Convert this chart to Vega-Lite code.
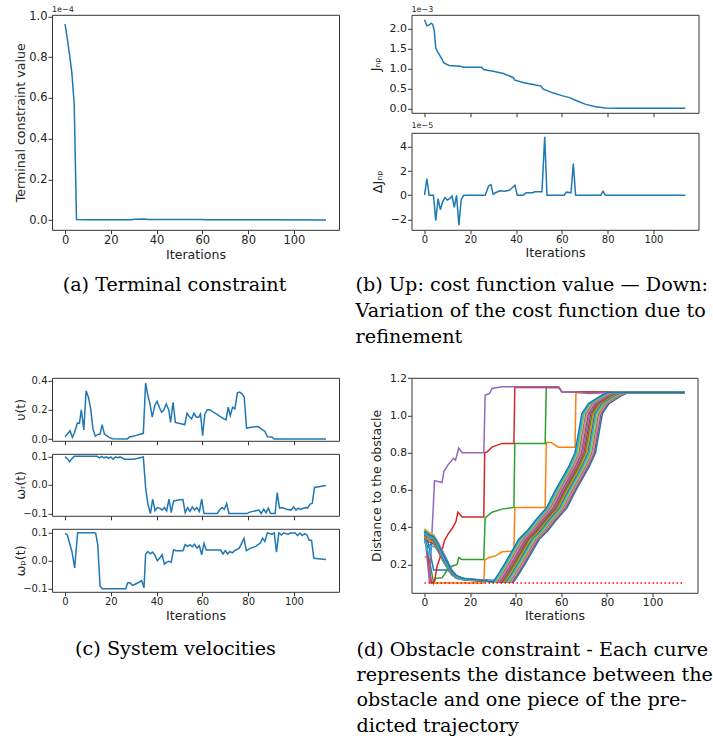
{
"$schema": "https://vega.github.io/schema/vega-lite/v6.json",
"background": "white",
"padding": {"left": 14, "top": 4.8, "right": 0, "bottom": 0},
"config": {
  "view": {"stroke": "#333", "strokeWidth": 1},
  "axis": {"domain": false, "grid": false, "tickColor": "#333", "tickSize": 4, "tickWidth": 1, "labelFont": "DejaVu Sans", "labelFontSize": 11.5, "labelColor": "#222", "labelPadding": 1, "titleFont": "DejaVu Sans", "titleFontSize": 12.6, "titleFontWeight": "normal", "titleColor": "#222", "labelFlush": false, "labelOverlap": false},
  "axisX": {"titlePadding": 0.5},
  "line": {"strokeWidth": 1.5}
},
"spacing": 23,
"vconcat": [
 {
  "hconcat": [
   {
    "vconcat": [
     {
      "width": 287, "height": 215,
      "title": {"text": "1e−4", "anchor": "start", "frame": "group", "fontSize": 8, "fontWeight": "normal", "font": "DejaVu Sans", "offset": -3.25, "color": "#222"},
      "data": {"values": [
        {"it":0,"v":0.962},{"it":1,"v":0.89},{"it":2,"v":0.81},{"it":3,"v":0.72},{"it":4,"v":0.57},{"it":5,"v":0.002},{"it":10,"v":0.001},{"it":20,"v":0.001},{"it":29,"v":0.001},{"it":30,"v":0.004},{"it":35,"v":0.005},{"it":36,"v":0.003},{"it":45,"v":0.002},{"it":60,"v":0.002},{"it":61,"v":0.001},{"it":90,"v":0.001},{"it":114,"v":0.0}
      ]},
      "mark": {"type": "line", "color": "#1f77b4"},
      "encoding": {
        "x": {"field": "it", "type": "quantitative", "scale": {"domain": [-5.7, 119.7], "nice": false, "zero": false}, "axis": {"values": [0,20,40,60,80,100], "title": "Iterations", "titlePadding": 2.5}},
        "y": {"field": "v", "type": "quantitative", "scale": {"domain": [-0.048, 1.008], "nice": false, "zero": false}, "axis": {"values": [0,0.2,0.4,0.6,0.8,1.0], "format": ".1f", "title": "Terminal constraint value", "titleX": -24.4}}
      }
     }
    ],
    "title": {"text": "(a) Terminal constraint", "orient": "bottom", "anchor": "middle", "dx": -2.25, "font": "DejaVu Serif", "fontSize": 19.2, "fontWeight": "normal", "color": "black", "offset": 14}
   },
   {
    "vconcat": [
     {
      "width": 287, "height": 98,
      "title": {"text": "1e−3", "anchor": "start", "frame": "group", "fontSize": 8, "fontWeight": "normal", "font": "DejaVu Sans", "offset": 0.3, "color": "#222"},
      "data": {"values": [
        {"it":0,"v":2.225},{"it":1,"v":2.075},{"it":2,"v":2.1},{"it":3,"v":2.14},{"it":3.6,"v":2.1},{"it":4.2,"v":1.975},{"it":4.9,"v":1.52},{"it":5.6,"v":1.43},{"it":7.3,"v":1.27},{"it":8.5,"v":1.14},{"it":10.7,"v":1.08},{"it":15.7,"v":1.06},{"it":17,"v":1.035},{"it":25,"v":1.035},{"it":25.8,"v":0.975},{"it":30,"v":0.93},{"it":34.4,"v":0.875},{"it":36,"v":0.84},{"it":38.8,"v":0.77},{"it":39.5,"v":0.71},{"it":43,"v":0.65},{"it":47.4,"v":0.6},{"it":51,"v":0.56},{"it":51.7,"v":0.49},{"it":56,"v":0.39},{"it":60,"v":0.32},{"it":63.3,"v":0.27},{"it":67,"v":0.18},{"it":70.5,"v":0.1},{"it":74.8,"v":0.04},{"it":79,"v":0.008},{"it":85,"v":0.0},{"it":114,"v":0.0}
      ]},
      "mark": {"type": "line", "color": "#1f77b4"},
      "encoding": {
        "x": {"field": "it", "type": "quantitative", "scale": {"domain": [-5.7, 119.7], "nice": false, "zero": false}, "axis": {"values": [0,20,40,60,80,100], "labels": false, "title": null}},
        "y": {"field": "v", "type": "quantitative", "scale": {"domain": [-0.112, 2.352], "nice": false, "zero": false}, "axis": {"values": [0,0.5,1,1.5,2], "format": ".1f", "labelFontSize": 11, "title": "Jₙₚ", "titleX": -29.1}}
      }
     },
     {
      "width": 287, "height": 97,
      "title": {"text": "1e−5", "anchor": "start", "frame": "group", "fontSize": 8, "fontWeight": "normal", "font": "DejaVu Sans", "offset": 2.5, "color": "#222"},
      "data": {"values": [
        {"it":0,"v":0},{"it":1,"v":1.38},{"it":2,"v":0},{"it":3.9,"v":0},{"it":4.9,"v":-2.1},{"it":5.9,"v":-0.28},{"it":6.9,"v":-1.2},{"it":7.9,"v":-0.55},{"it":8.9,"v":-0.2},{"it":9.9,"v":-0.4},{"it":11,"v":-0.28},{"it":12,"v":-0.08},{"it":13,"v":-1.0},{"it":14,"v":0},{"it":15,"v":-2.48},{"it":16,"v":-0.4},{"it":17,"v":-0.03},{"it":18,"v":0},{"it":26.5,"v":0},{"it":28,"v":0.77},{"it":29,"v":0.88},{"it":30,"v":0.08},{"it":31,"v":0.2},{"it":33,"v":0.36},{"it":35,"v":0.33},{"it":37,"v":0.41},{"it":38,"v":0.55},{"it":39.5,"v":0.83},{"it":40.5,"v":0},{"it":43,"v":0},{"it":44.5,"v":0.2},{"it":47.4,"v":0.2},{"it":48,"v":0.28},{"it":51.3,"v":0.28},{"it":52.5,"v":4.83},{"it":53.5,"v":0},{"it":61,"v":0},{"it":62,"v":0.25},{"it":64,"v":0.2},{"it":65,"v":2.62},{"it":66,"v":0},{"it":77,"v":0},{"it":78,"v":0.33},{"it":79,"v":0},{"it":114,"v":0}
      ]},
      "mark": {"type": "line", "color": "#1f77b4"},
      "encoding": {
        "x": {"field": "it", "type": "quantitative", "scale": {"domain": [-5.7, 119.7], "nice": false, "zero": false}, "axis": {"values": [0,20,40,60,80,100], "title": "Iterations", "labelFontSize": 10, "titlePadding": 2}},
        "y": {"field": "v", "type": "quantitative", "scale": {"domain": [-2.865, 5.165], "nice": false, "zero": false}, "axis": {"values": [-2,0,2,4], "format": "d", "labelFontSize": 11, "title": "ΔJₙₚ", "titleX": -26.5}}
      }
     }
    ],
    "spacing": 20,
    "bounds": "flush",
    "title": {"text": ["(b) Up: cost function value — Down:", "Variation of the cost function due to", "refinement"], "orient": "bottom", "anchor": "start", "align": "left", "dx": -13.3, "font": "DejaVu Serif", "fontSize": 19.2, "lineHeight": 26, "fontWeight": "normal", "color": "black", "offset": 16.5}
   }
  ],
  "spacing": 15.5
 },
 {
  "hconcat": [
   {
    "vconcat": [
     {
      "width": 287, "height": 63,
      "data": {"values": [
        {"it":0,"v":0.016},{"it":2.2,"v":0.057},{"it":3.2,"v":0.011},{"it":4.2,"v":0.046},{"it":5.4,"v":0.11},{"it":6.3,"v":0.107},{"it":7.1,"v":0.2},{"it":8.2,"v":0.062},{"it":9.2,"v":0.33},{"it":10.2,"v":0.286},{"it":11.2,"v":0.206},{"it":12.2,"v":0.069},{"it":13.2,"v":0.02},{"it":14.3,"v":0.03},{"it":15.3,"v":0.034},{"it":16.2,"v":0.098},{"it":17.2,"v":0.034},{"it":18.2,"v":0.023},{"it":19.2,"v":0.011},{"it":20.7,"v":0.002},{"it":27.2,"v":0.0},{"it":28.1,"v":0.014},{"it":30.1,"v":0.02},{"it":34.2,"v":0.039},{"it":35.2,"v":0.382},{"it":36.2,"v":0.297},{"it":37.1,"v":0.24},{"it":38.1,"v":0.149},{"it":39.2,"v":0.229},{"it":40.2,"v":0.258},{"it":41.2,"v":0.217},{"it":42.2,"v":0.183},{"it":43.2,"v":0.2},{"it":44.2,"v":0.24},{"it":45.3,"v":0.2},{"it":46.1,"v":0.114},{"it":47.2,"v":0.251},{"it":48.2,"v":0.114},{"it":49.2,"v":0.11},{"it":51.2,"v":0.103},{"it":52.3,"v":0.098},{"it":53.3,"v":0.176},{"it":54.3,"v":0.153},{"it":55.3,"v":0.137},{"it":56.3,"v":0.176},{"it":57.4,"v":0.149},{"it":58.4,"v":0.149},{"it":59.2,"v":0.171},{"it":60.1,"v":0.023},{"it":61.1,"v":0.171},{"it":62.2,"v":0.2},{"it":63.2,"v":0.2},{"it":69.4,"v":0.137},{"it":70.3,"v":0.13},{"it":71.3,"v":0.217},{"it":72.2,"v":0.16},{"it":73.2,"v":0.217},{"it":74.2,"v":0.206},{"it":75.3,"v":0.315},{"it":76.3,"v":0.32},{"it":77.3,"v":0.309},{"it":78.3,"v":0.286},{"it":79.3,"v":0.075},{"it":81.4,"v":0.08},{"it":84.3,"v":0.085},{"it":85.3,"v":0.075},{"it":86.3,"v":0.062},{"it":87.3,"v":0.053},{"it":88.4,"v":0.016},{"it":90.4,"v":0.014},{"it":91.4,"v":0.0},{"it":114,"v":0.0}
      ]},
      "mark": {"type": "line", "color": "#1f77b4"},
      "encoding": {
        "x": {"field": "it", "type": "quantitative", "scale": {"domain": [-5.7, 119.7], "nice": false, "zero": false}, "axis": {"values": [0,20,40,60,80,100], "labels": false, "title": null}},
        "y": {"field": "v", "type": "quantitative", "scale": {"domain": [-0.012, 0.418], "nice": false, "zero": false}, "axis": {"values": [0,0.2,0.4], "format": ".1f", "labelFontSize": 10, "title": "υ(t)", "titleX": -24.4}}
      }
     },
     {
      "width": 287, "height": 62,
      "data": {"values": [
        {"it":0,"v":0.099},{"it":1,"v":0.092},{"it":2,"v":0.081},{"it":3,"v":0.092},{"it":4,"v":0.1},{"it":14,"v":0.1},{"it":15,"v":0.095},{"it":16,"v":0.1},{"it":17,"v":0.095},{"it":18,"v":0.098},{"it":19,"v":0.093},{"it":20,"v":0.098},{"it":21,"v":0.09},{"it":22,"v":0.098},{"it":23,"v":0.095},{"it":24,"v":0.098},{"it":26,"v":0.09},{"it":30,"v":0.09},{"it":34.2,"v":0.098},{"it":35.2,"v":-0.009},{"it":36.2,"v":-0.067},{"it":37.3,"v":-0.1},{"it":38.3,"v":-0.05},{"it":39.3,"v":-0.09},{"it":40.3,"v":-0.079},{"it":41.3,"v":-0.081},{"it":42.4,"v":-0.088},{"it":43.4,"v":-0.079},{"it":44.4,"v":-0.091},{"it":45.4,"v":-0.05},{"it":46.4,"v":-0.097},{"it":47.4,"v":-0.056},{"it":49.5,"v":-0.053},{"it":51.5,"v":-0.051},{"it":52.5,"v":-0.097},{"it":53.6,"v":-0.079},{"it":54.6,"v":-0.093},{"it":55.6,"v":-0.077},{"it":56.6,"v":-0.088},{"it":57.6,"v":-0.079},{"it":58.7,"v":-0.093},{"it":59.7,"v":-0.05},{"it":60.7,"v":-0.1},{"it":66.5,"v":-0.1},{"it":67.5,"v":-0.088},{"it":68.6,"v":-0.079},{"it":69.6,"v":-0.085},{"it":70.6,"v":-0.065},{"it":71.6,"v":-0.1},{"it":79.6,"v":-0.1},{"it":80.6,"v":-0.095},{"it":84.7,"v":-0.088},{"it":85.7,"v":-0.1},{"it":86.8,"v":-0.085},{"it":87.8,"v":-0.097},{"it":88.8,"v":-0.081},{"it":89.8,"v":-0.1},{"it":91.8,"v":-0.1},{"it":92.7,"v":-0.027},{"it":93.7,"v":-0.081},{"it":94.8,"v":-0.079},{"it":96.8,"v":-0.085},{"it":98.8,"v":-0.088},{"it":99.9,"v":-0.077},{"it":100.9,"v":-0.088},{"it":101.9,"v":-0.081},{"it":102.9,"v":-0.086},{"it":105,"v":-0.079},{"it":106,"v":-0.081},{"it":107,"v":-0.067},{"it":108,"v":-0.065},{"it":109,"v":-0.009},{"it":114,"v":-0.002}
      ]},
      "mark": {"type": "line", "color": "#1f77b4"},
      "encoding": {
        "x": {"field": "it", "type": "quantitative", "scale": {"domain": [-5.7, 119.7], "nice": false, "zero": false}, "axis": {"values": [0,20,40,60,80,100], "labels": false, "title": null}},
        "y": {"field": "v", "type": "quantitative", "scale": {"domain": [-0.108, 0.109], "nice": false, "zero": false}, "axis": {"values": [-0.1,0,0.1], "format": ".1f", "labelFontSize": 10, "title": "ωᵣ(t)", "titleX": -24.4}}
      }
     },
     {
      "width": 287, "height": 63,
      "title": {"text": "(c) System velocities", "orient": "bottom", "anchor": "middle", "frame": "group", "dx": -20, "font": "DejaVu Serif", "fontSize": 19.2, "fontWeight": "normal", "color": "black", "offset": 18},
      "data": {"values": [
        {"it":0,"v":0.098},{"it":1,"v":0.092},{"it":3,"v":0.033},{"it":4.2,"v":-0.026},{"it":5.5,"v":0.1},{"it":12.7,"v":0.1},{"it":13.4,"v":0.098},{"it":14.3,"v":0.057},{"it":15.3,"v":-0.091},{"it":16.3,"v":-0.1},{"it":26.5,"v":-0.1},{"it":27.4,"v":-0.079},{"it":28.4,"v":-0.079},{"it":29.4,"v":-0.088},{"it":30.4,"v":-0.085},{"it":32.5,"v":-0.076},{"it":33.5,"v":-0.071},{"it":34.5,"v":-0.097},{"it":35.2,"v":0.024},{"it":36.2,"v":0.033},{"it":37.3,"v":0.025},{"it":38.3,"v":0.031},{"it":39.3,"v":0.019},{"it":40.3,"v":0.0},{"it":41.3,"v":0.009},{"it":42.4,"v":0.021},{"it":43.4,"v":-0.012},{"it":44.4,"v":-0.005},{"it":45.4,"v":-0.002},{"it":46.4,"v":-0.005},{"it":47.4,"v":0.039},{"it":48.5,"v":0.036},{"it":51.5,"v":0.036},{"it":52.5,"v":0.057},{"it":53.6,"v":0.051},{"it":54.6,"v":0.057},{"it":55.6,"v":0.05},{"it":56.6,"v":0.059},{"it":57.6,"v":0.045},{"it":58.7,"v":0.054},{"it":59.7,"v":0.021},{"it":60.7,"v":0.062},{"it":61.7,"v":0.038},{"it":68,"v":0.038},{"it":69,"v":0.024},{"it":70,"v":0.036},{"it":71,"v":0.024},{"it":72,"v":0.033},{"it":73.1,"v":0.028},{"it":74.1,"v":0.036},{"it":76.1,"v":0.045},{"it":78.2,"v":0.08},{"it":79.2,"v":0.036},{"it":81.2,"v":0.045},{"it":83.3,"v":0.051},{"it":85.3,"v":0.063},{"it":86.3,"v":0.08},{"it":87.3,"v":0.069},{"it":88.4,"v":0.099},{"it":90.4,"v":0.095},{"it":91.4,"v":0.099},{"it":92.4,"v":0.031},{"it":93.4,"v":0.099},{"it":94.5,"v":0.092},{"it":95.5,"v":0.099},{"it":97.5,"v":0.095},{"it":98.5,"v":0.099},{"it":100.6,"v":0.099},{"it":101.6,"v":0.09},{"it":102.6,"v":0.099},{"it":103.6,"v":0.09},{"it":104.7,"v":0.097},{"it":105.7,"v":0.092},{"it":106.7,"v":0.073},{"it":107.7,"v":0.073},{"it":108.7,"v":0.009},{"it":114,"v":0.004}
      ]},
      "mark": {"type": "line", "color": "#1f77b4"},
      "encoding": {
        "x": {"field": "it", "type": "quantitative", "scale": {"domain": [-5.7, 119.7], "nice": false, "zero": false}, "axis": {"values": [0,20,40,60,80,100], "labelFontSize": 10, "title": "Iterations", "titlePadding": 2.5}},
        "y": {"field": "v", "type": "quantitative", "scale": {"domain": [-0.111, 0.114], "nice": false, "zero": false}, "axis": {"values": [-0.1,0,0.1], "format": ".1f", "labelFontSize": 10, "title": "ωₚ(t)", "titleX": -24.4}}
      }
     }
    ],
    "spacing": 13,
    "bounds": "flush"
   },
   {
    "width": 286, "height": 215,
    "title": {"text": ["(d) Obstacle constraint - Each curve", "represents the distance between the", "obstacle and one piece of the pre-", "dicted trajectory"], "orient": "bottom", "anchor": "start", "align": "left", "frame": "group", "dx": -55, "font": "DejaVu Serif", "fontSize": 19.2, "lineHeight": 25.4, "fontWeight": "normal", "color": "black", "offset": 18},
    "layer": [
     {
      "data": {"values": [
{"p":"p0","i":0,"v":0.32},{"p":"p0","i":2,"v":0.29},{"p":"p0","i":4,"v":0.17},{"p":"p0","i":10,"v":0.17},{"p":"p0","i":12,"v":0.15},{"p":"p0","i":15,"v":0.13},{"p":"p0","i":20,"v":0.12},{"p":"p0","i":30,"v":0.115},{"p":"p0","i":39.0,"v":0.105},{"p":"p0","i":41.5,"v":0.15},{"p":"p0","i":44.0,"v":0.2},{"p":"p0","i":47.3,"v":0.27},{"p":"p0","i":50.3,"v":0.335},{"p":"p0","i":54.0,"v":0.38},{"p":"p0","i":57.5,"v":0.434},{"p":"p0","i":62.6,"v":0.506},{"p":"p0","i":66.3,"v":0.596},{"p":"p0","i":72.1,"v":0.722},{"p":"p0","i":75.0,"v":0.8},{"p":"p0","i":78.0,"v":1.01},{"p":"p0","i":80.9,"v":1.064},{"p":"p0","i":86.7,"v":1.109},{"p":"p0","i":89.6,"v":1.124},{"p":"p0","i":114,"v":1.124},
{"p":"p1","i":0,"v":0.24},{"p":"p1","i":1.2,"v":0.24},{"p":"p1","i":3.0,"v":0.1},{"p":"p1","i":26.0,"v":0.1},{"p":"p1","i":26.4,"v":0.222},{"p":"p1","i":28.0,"v":0.236},{"p":"p1","i":31.0,"v":0.245},{"p":"p1","i":34.0,"v":0.268},{"p":"p1","i":39.2,"v":0.272},{"p":"p1","i":39.6,"v":0.506},{"p":"p1","i":52.9,"v":0.506},{"p":"p1","i":53.4,"v":0.855},{"p":"p1","i":55.5,"v":0.855},{"p":"p1","i":58.7,"v":0.83},{"p":"p1","i":66.0,"v":0.83},{"p":"p1","i":66.4,"v":1.122},{"p":"p1","i":114,"v":1.124},
{"p":"p2","i":0,"v":0.35},{"p":"p2","i":2.5,"v":0.2},{"p":"p2","i":4.0,"v":0.1},{"p":"p2","i":4.8,"v":0.125},{"p":"p2","i":7.7,"v":0.128},{"p":"p2","i":10.0,"v":0.17},{"p":"p2","i":12.0,"v":0.19},{"p":"p2","i":14.3,"v":0.2},{"p":"p2","i":15.0,"v":0.236},{"p":"p2","i":16.5,"v":0.227},{"p":"p2","i":26.0,"v":0.227},{"p":"p2","i":26.6,"v":0.45},{"p":"p2","i":29.6,"v":0.48},{"p":"p2","i":34.0,"v":0.497},{"p":"p2","i":39.2,"v":0.506},{"p":"p2","i":39.6,"v":0.85},{"p":"p2","i":52.9,"v":0.85},{"p":"p2","i":53.4,"v":1.15},{"p":"p2","i":59.0,"v":1.15},{"p":"p2","i":60.2,"v":1.127},{"p":"p2","i":114,"v":1.124},
{"p":"p3","i":0,"v":0.37},{"p":"p3","i":1.5,"v":0.24},{"p":"p3","i":3.0,"v":0.1},{"p":"p3","i":4.4,"v":0.11},{"p":"p3","i":5.5,"v":0.19},{"p":"p3","i":7.3,"v":0.254},{"p":"p3","i":8.7,"v":0.326},{"p":"p3","i":10.2,"v":0.36},{"p":"p3","i":12.4,"v":0.398},{"p":"p3","i":13.8,"v":0.43},{"p":"p3","i":14.6,"v":0.48},{"p":"p3","i":15.5,"v":0.47},{"p":"p3","i":16.5,"v":0.455},{"p":"p3","i":26.0,"v":0.455},{"p":"p3","i":26.4,"v":0.8},{"p":"p3","i":27.5,"v":0.805},{"p":"p3","i":29.6,"v":0.83},{"p":"p3","i":34.0,"v":0.85},{"p":"p3","i":39.2,"v":0.85},{"p":"p3","i":39.6,"v":1.15},{"p":"p3","i":59.0,"v":1.15},{"p":"p3","i":60.2,"v":1.127},{"p":"p3","i":114,"v":1.124},
{"p":"p4","i":0,"v":0.38},{"p":"p4","i":2.2,"v":0.1},{"p":"p4","i":4.4,"v":0.65},{"p":"p4","i":7.7,"v":0.64},{"p":"p4","i":8.5,"v":0.7},{"p":"p4","i":10.6,"v":0.74},{"p":"p4","i":12.8,"v":0.77},{"p":"p4","i":13.6,"v":0.76},{"p":"p4","i":15.0,"v":0.825},{"p":"p4","i":16.5,"v":0.8},{"p":"p4","i":26.0,"v":0.8},{"p":"p4","i":26.6,"v":1.11},{"p":"p4","i":28.5,"v":1.118},{"p":"p4","i":29.6,"v":1.145},{"p":"p4","i":34.0,"v":1.155},{"p":"p4","i":58.7,"v":1.155},{"p":"p4","i":60.2,"v":1.127},{"p":"p4","i":66.0,"v":1.127},{"p":"p4","i":71.9,"v":1.118},{"p":"p4","i":80.6,"v":1.123},{"p":"p4","i":114,"v":1.124},
{"p":"p5","i":0,"v":0.34},{"p":"p5","i":2,"v":0.32},{"p":"p5","i":4,"v":0.31},{"p":"p5","i":6,"v":0.27},{"p":"p5","i":8,"v":0.22},{"p":"p5","i":10,"v":0.18},{"p":"p5","i":12,"v":0.145},{"p":"p5","i":14,"v":0.125},{"p":"p5","i":17,"v":0.118},{"p":"p5","i":25,"v":0.11},{"p":"p5","i":38.4,"v":0.105},{"p":"p5","i":40.9,"v":0.15},{"p":"p5","i":43.4,"v":0.2},{"p":"p5","i":46.7,"v":0.27},{"p":"p5","i":49.7,"v":0.335},{"p":"p5","i":53.4,"v":0.38},{"p":"p5","i":56.9,"v":0.434},{"p":"p5","i":62.0,"v":0.506},{"p":"p5","i":65.7,"v":0.596},{"p":"p5","i":71.5,"v":0.722},{"p":"p5","i":74.4,"v":0.8},{"p":"p5","i":77.4,"v":1.01},{"p":"p5","i":80.3,"v":1.064},{"p":"p5","i":86.1,"v":1.109},{"p":"p5","i":89.0,"v":1.124},{"p":"p5","i":114,"v":1.124},
{"p":"p6","i":0,"v":0.36},{"p":"p6","i":2,"v":0.35},{"p":"p6","i":4,"v":0.34},{"p":"p6","i":6,"v":0.3},{"p":"p6","i":8,"v":0.25},{"p":"p6","i":10,"v":0.2},{"p":"p6","i":12,"v":0.16},{"p":"p6","i":14,"v":0.135},{"p":"p6","i":17,"v":0.12},{"p":"p6","i":25,"v":0.112},{"p":"p6","i":37.9,"v":0.105},{"p":"p6","i":40.4,"v":0.15},{"p":"p6","i":42.9,"v":0.2},{"p":"p6","i":46.2,"v":0.27},{"p":"p6","i":49.2,"v":0.335},{"p":"p6","i":52.9,"v":0.38},{"p":"p6","i":56.4,"v":0.434},{"p":"p6","i":61.5,"v":0.506},{"p":"p6","i":65.2,"v":0.596},{"p":"p6","i":71.0,"v":0.722},{"p":"p6","i":73.9,"v":0.8},{"p":"p6","i":76.9,"v":1.01},{"p":"p6","i":79.8,"v":1.064},{"p":"p6","i":85.6,"v":1.109},{"p":"p6","i":88.5,"v":1.124},{"p":"p6","i":114,"v":1.124},
{"p":"p7","i":0,"v":0.34},{"p":"p7","i":2,"v":0.33},{"p":"p7","i":4,"v":0.32},{"p":"p7","i":6,"v":0.28},{"p":"p7","i":8,"v":0.23},{"p":"p7","i":10,"v":0.18},{"p":"p7","i":12,"v":0.145},{"p":"p7","i":14,"v":0.125},{"p":"p7","i":17,"v":0.118},{"p":"p7","i":25,"v":0.11},{"p":"p7","i":37.3,"v":0.105},{"p":"p7","i":39.8,"v":0.15},{"p":"p7","i":42.3,"v":0.2},{"p":"p7","i":45.6,"v":0.27},{"p":"p7","i":48.6,"v":0.335},{"p":"p7","i":52.3,"v":0.38},{"p":"p7","i":55.8,"v":0.434},{"p":"p7","i":60.9,"v":0.506},{"p":"p7","i":64.6,"v":0.596},{"p":"p7","i":70.4,"v":0.722},{"p":"p7","i":73.3,"v":0.8},{"p":"p7","i":76.3,"v":1.01},{"p":"p7","i":79.2,"v":1.064},{"p":"p7","i":85.0,"v":1.109},{"p":"p7","i":87.9,"v":1.124},{"p":"p7","i":114,"v":1.124},
{"p":"p8","i":0,"v":0.35},{"p":"p8","i":2,"v":0.34},{"p":"p8","i":4,"v":0.33},{"p":"p8","i":6,"v":0.29},{"p":"p8","i":8,"v":0.25},{"p":"p8","i":10,"v":0.19},{"p":"p8","i":12,"v":0.15},{"p":"p8","i":14,"v":0.13},{"p":"p8","i":17,"v":0.12},{"p":"p8","i":25,"v":0.112},{"p":"p8","i":36.8,"v":0.105},{"p":"p8","i":39.3,"v":0.15},{"p":"p8","i":41.8,"v":0.2},{"p":"p8","i":45.1,"v":0.27},{"p":"p8","i":48.1,"v":0.335},{"p":"p8","i":51.8,"v":0.38},{"p":"p8","i":55.3,"v":0.434},{"p":"p8","i":60.4,"v":0.506},{"p":"p8","i":64.1,"v":0.596},{"p":"p8","i":69.9,"v":0.722},{"p":"p8","i":72.8,"v":0.8},{"p":"p8","i":75.8,"v":1.01},{"p":"p8","i":78.7,"v":1.064},{"p":"p8","i":84.5,"v":1.109},{"p":"p8","i":87.4,"v":1.124},{"p":"p8","i":114,"v":1.124},
{"p":"p9","i":0,"v":0.33},{"p":"p9","i":2,"v":0.25},{"p":"p9","i":3,"v":0.3},{"p":"p9","i":5,"v":0.29},{"p":"p9","i":7,"v":0.26},{"p":"p9","i":9,"v":0.2},{"p":"p9","i":12,"v":0.145},{"p":"p9","i":14,"v":0.13},{"p":"p9","i":17,"v":0.12},{"p":"p9","i":25,"v":0.112},{"p":"p9","i":36.2,"v":0.105},{"p":"p9","i":38.7,"v":0.15},{"p":"p9","i":41.2,"v":0.2},{"p":"p9","i":44.5,"v":0.27},{"p":"p9","i":47.5,"v":0.335},{"p":"p9","i":51.2,"v":0.38},{"p":"p9","i":54.7,"v":0.434},{"p":"p9","i":59.8,"v":0.506},{"p":"p9","i":63.5,"v":0.596},{"p":"p9","i":69.3,"v":0.722},{"p":"p9","i":72.2,"v":0.8},{"p":"p9","i":75.2,"v":1.01},{"p":"p9","i":78.1,"v":1.064},{"p":"p9","i":83.9,"v":1.109},{"p":"p9","i":86.8,"v":1.124},{"p":"p9","i":114,"v":1.124},
{"p":"p10","i":0,"v":0.36},{"p":"p10","i":2,"v":0.3},{"p":"p10","i":4,"v":0.32},{"p":"p10","i":6,"v":0.31},{"p":"p10","i":8,"v":0.27},{"p":"p10","i":10,"v":0.22},{"p":"p10","i":12,"v":0.17},{"p":"p10","i":14,"v":0.14},{"p":"p10","i":17,"v":0.125},{"p":"p10","i":25,"v":0.115},{"p":"p10","i":35.6,"v":0.105},{"p":"p10","i":38.1,"v":0.15},{"p":"p10","i":40.6,"v":0.2},{"p":"p10","i":43.9,"v":0.27},{"p":"p10","i":46.9,"v":0.335},{"p":"p10","i":50.6,"v":0.38},{"p":"p10","i":54.1,"v":0.434},{"p":"p10","i":59.2,"v":0.506},{"p":"p10","i":62.9,"v":0.596},{"p":"p10","i":68.7,"v":0.722},{"p":"p10","i":71.6,"v":0.8},{"p":"p10","i":74.6,"v":1.01},{"p":"p10","i":77.5,"v":1.064},{"p":"p10","i":83.3,"v":1.109},{"p":"p10","i":86.2,"v":1.124},{"p":"p10","i":114,"v":1.124},
{"p":"p11","i":0,"v":0.35},{"p":"p11","i":2,"v":0.33},{"p":"p11","i":4,"v":0.32},{"p":"p11","i":6,"v":0.28},{"p":"p11","i":8,"v":0.24},{"p":"p11","i":10,"v":0.19},{"p":"p11","i":12,"v":0.15},{"p":"p11","i":14,"v":0.13},{"p":"p11","i":17,"v":0.12},{"p":"p11","i":25,"v":0.112},{"p":"p11","i":35.1,"v":0.105},{"p":"p11","i":37.6,"v":0.15},{"p":"p11","i":40.1,"v":0.2},{"p":"p11","i":43.4,"v":0.27},{"p":"p11","i":46.4,"v":0.335},{"p":"p11","i":50.1,"v":0.38},{"p":"p11","i":53.6,"v":0.434},{"p":"p11","i":58.7,"v":0.506},{"p":"p11","i":62.4,"v":0.596},{"p":"p11","i":68.2,"v":0.722},{"p":"p11","i":71.1,"v":0.8},{"p":"p11","i":74.1,"v":1.01},{"p":"p11","i":77.0,"v":1.064},{"p":"p11","i":82.8,"v":1.109},{"p":"p11","i":85.7,"v":1.124},{"p":"p11","i":114,"v":1.124},
{"p":"p12","i":0,"v":0.37},{"p":"p12","i":2,"v":0.36},{"p":"p12","i":4,"v":0.35},{"p":"p12","i":6,"v":0.31},{"p":"p12","i":8,"v":0.26},{"p":"p12","i":10,"v":0.21},{"p":"p12","i":12,"v":0.165},{"p":"p12","i":14,"v":0.14},{"p":"p12","i":17,"v":0.125},{"p":"p12","i":25,"v":0.115},{"p":"p12","i":34.5,"v":0.105},{"p":"p12","i":37.0,"v":0.15},{"p":"p12","i":39.5,"v":0.2},{"p":"p12","i":42.8,"v":0.27},{"p":"p12","i":45.8,"v":0.335},{"p":"p12","i":49.5,"v":0.38},{"p":"p12","i":53.0,"v":0.434},{"p":"p12","i":58.1,"v":0.506},{"p":"p12","i":61.8,"v":0.596},{"p":"p12","i":67.6,"v":0.722},{"p":"p12","i":70.5,"v":0.8},{"p":"p12","i":73.5,"v":1.01},{"p":"p12","i":76.4,"v":1.064},{"p":"p12","i":82.2,"v":1.109},{"p":"p12","i":85.1,"v":1.124},{"p":"p12","i":114,"v":1.124},
{"p":"p13","i":0,"v":0.36},{"p":"p13","i":2,"v":0.34},{"p":"p13","i":4,"v":0.33},{"p":"p13","i":6,"v":0.29},{"p":"p13","i":8,"v":0.25},{"p":"p13","i":10,"v":0.2},{"p":"p13","i":12,"v":0.16},{"p":"p13","i":14,"v":0.13},{"p":"p13","i":17,"v":0.12},{"p":"p13","i":25,"v":0.112},{"p":"p13","i":33.9,"v":0.105},{"p":"p13","i":36.4,"v":0.15},{"p":"p13","i":38.9,"v":0.2},{"p":"p13","i":42.2,"v":0.27},{"p":"p13","i":45.2,"v":0.335},{"p":"p13","i":48.9,"v":0.38},{"p":"p13","i":52.4,"v":0.434},{"p":"p13","i":57.5,"v":0.506},{"p":"p13","i":61.2,"v":0.596},{"p":"p13","i":67.0,"v":0.722},{"p":"p13","i":69.9,"v":0.8},{"p":"p13","i":72.9,"v":1.01},{"p":"p13","i":75.8,"v":1.064},{"p":"p13","i":81.6,"v":1.109},{"p":"p13","i":84.5,"v":1.124},{"p":"p13","i":114,"v":1.124},
{"p":"p14","i":0,"v":0.39},{"p":"p14","i":2,"v":0.37},{"p":"p14","i":4,"v":0.35},{"p":"p14","i":6,"v":0.3},{"p":"p14","i":8,"v":0.25},{"p":"p14","i":10,"v":0.2},{"p":"p14","i":12,"v":0.16},{"p":"p14","i":14,"v":0.135},{"p":"p14","i":17,"v":0.12},{"p":"p14","i":25,"v":0.115},{"p":"p14","i":33.4,"v":0.105},{"p":"p14","i":35.9,"v":0.15},{"p":"p14","i":38.4,"v":0.2},{"p":"p14","i":41.7,"v":0.27},{"p":"p14","i":44.7,"v":0.335},{"p":"p14","i":48.4,"v":0.38},{"p":"p14","i":51.9,"v":0.434},{"p":"p14","i":57.0,"v":0.506},{"p":"p14","i":60.7,"v":0.596},{"p":"p14","i":66.5,"v":0.722},{"p":"p14","i":69.4,"v":0.8},{"p":"p14","i":72.4,"v":1.01},{"p":"p14","i":75.3,"v":1.064},{"p":"p14","i":81.1,"v":1.109},{"p":"p14","i":84.0,"v":1.124},{"p":"p14","i":114,"v":1.124},
{"p":"p15","i":0,"v":0.37},{"p":"p15","i":2,"v":0.35},{"p":"p15","i":4,"v":0.33},{"p":"p15","i":6,"v":0.28},{"p":"p15","i":8,"v":0.24},{"p":"p15","i":10,"v":0.19},{"p":"p15","i":12,"v":0.15},{"p":"p15","i":14,"v":0.13},{"p":"p15","i":17,"v":0.12},{"p":"p15","i":25,"v":0.112},{"p":"p15","i":32.8,"v":0.105},{"p":"p15","i":35.3,"v":0.15},{"p":"p15","i":37.8,"v":0.2},{"p":"p15","i":41.1,"v":0.27},{"p":"p15","i":44.1,"v":0.335},{"p":"p15","i":47.8,"v":0.38},{"p":"p15","i":51.3,"v":0.434},{"p":"p15","i":56.4,"v":0.506},{"p":"p15","i":60.1,"v":0.596},{"p":"p15","i":65.9,"v":0.722},{"p":"p15","i":68.8,"v":0.8},{"p":"p15","i":71.8,"v":1.01},{"p":"p15","i":74.7,"v":1.064},{"p":"p15","i":80.5,"v":1.109},{"p":"p15","i":83.4,"v":1.124},{"p":"p15","i":114,"v":1.124},
{"p":"p16","i":0,"v":0.38},{"p":"p16","i":2,"v":0.36},{"p":"p16","i":4,"v":0.36},{"p":"p16","i":6,"v":0.32},{"p":"p16","i":8,"v":0.27},{"p":"p16","i":10,"v":0.21},{"p":"p16","i":12,"v":0.17},{"p":"p16","i":14,"v":0.14},{"p":"p16","i":17,"v":0.125},{"p":"p16","i":25,"v":0.115},{"p":"p16","i":32.3,"v":0.105},{"p":"p16","i":34.8,"v":0.15},{"p":"p16","i":37.3,"v":0.2},{"p":"p16","i":40.6,"v":0.27},{"p":"p16","i":43.6,"v":0.335},{"p":"p16","i":47.3,"v":0.38},{"p":"p16","i":50.8,"v":0.434},{"p":"p16","i":55.9,"v":0.506},{"p":"p16","i":59.6,"v":0.596},{"p":"p16","i":65.4,"v":0.722},{"p":"p16","i":68.3,"v":0.8},{"p":"p16","i":71.3,"v":1.01},{"p":"p16","i":74.2,"v":1.064},{"p":"p16","i":80.0,"v":1.109},{"p":"p16","i":82.9,"v":1.124},{"p":"p16","i":114,"v":1.124},
{"p":"p17","i":0,"v":0.36},{"p":"p17","i":2,"v":0.35},{"p":"p17","i":4,"v":0.34},{"p":"p17","i":6,"v":0.29},{"p":"p17","i":8,"v":0.24},{"p":"p17","i":10,"v":0.19},{"p":"p17","i":12,"v":0.155},{"p":"p17","i":14,"v":0.13},{"p":"p17","i":17,"v":0.12},{"p":"p17","i":25,"v":0.112},{"p":"p17","i":31.7,"v":0.105},{"p":"p17","i":34.2,"v":0.15},{"p":"p17","i":36.7,"v":0.2},{"p":"p17","i":40.0,"v":0.27},{"p":"p17","i":43.0,"v":0.335},{"p":"p17","i":46.7,"v":0.38},{"p":"p17","i":50.2,"v":0.434},{"p":"p17","i":55.3,"v":0.506},{"p":"p17","i":59.0,"v":0.596},{"p":"p17","i":64.8,"v":0.722},{"p":"p17","i":67.7,"v":0.8},{"p":"p17","i":70.7,"v":1.01},{"p":"p17","i":73.6,"v":1.064},{"p":"p17","i":79.4,"v":1.109},{"p":"p17","i":82.3,"v":1.124},{"p":"p17","i":114,"v":1.124},
{"p":"p18","i":0,"v":0.39},{"p":"p18","i":2,"v":0.37},{"p":"p18","i":4,"v":0.36},{"p":"p18","i":6,"v":0.31},{"p":"p18","i":8,"v":0.26},{"p":"p18","i":10,"v":0.2},{"p":"p18","i":12,"v":0.16},{"p":"p18","i":14,"v":0.135},{"p":"p18","i":17,"v":0.12},{"p":"p18","i":25,"v":0.115},{"p":"p18","i":31.1,"v":0.105},{"p":"p18","i":33.6,"v":0.15},{"p":"p18","i":36.1,"v":0.2},{"p":"p18","i":39.4,"v":0.27},{"p":"p18","i":42.4,"v":0.335},{"p":"p18","i":46.1,"v":0.38},{"p":"p18","i":49.6,"v":0.434},{"p":"p18","i":54.7,"v":0.506},{"p":"p18","i":58.4,"v":0.596},{"p":"p18","i":64.2,"v":0.722},{"p":"p18","i":67.1,"v":0.8},{"p":"p18","i":70.1,"v":1.01},{"p":"p18","i":73.0,"v":1.064},{"p":"p18","i":78.8,"v":1.109},{"p":"p18","i":81.7,"v":1.124},{"p":"p18","i":114,"v":1.124},
{"p":"p19","i":0,"v":0.37},{"p":"p19","i":2,"v":0.34},{"p":"p19","i":4,"v":0.34},{"p":"p19","i":6,"v":0.3},{"p":"p19","i":8,"v":0.25},{"p":"p19","i":10,"v":0.2},{"p":"p19","i":12,"v":0.16},{"p":"p19","i":14,"v":0.135},{"p":"p19","i":17,"v":0.12},{"p":"p19","i":25,"v":0.115},{"p":"p19","i":30.6,"v":0.105},{"p":"p19","i":33.1,"v":0.15},{"p":"p19","i":35.6,"v":0.2},{"p":"p19","i":38.9,"v":0.27},{"p":"p19","i":41.9,"v":0.335},{"p":"p19","i":45.6,"v":0.38},{"p":"p19","i":49.1,"v":0.434},{"p":"p19","i":54.2,"v":0.506},{"p":"p19","i":57.9,"v":0.596},{"p":"p19","i":63.7,"v":0.722},{"p":"p19","i":66.6,"v":0.8},{"p":"p19","i":69.6,"v":1.01},{"p":"p19","i":72.5,"v":1.064},{"p":"p19","i":78.3,"v":1.109},{"p":"p19","i":81.2,"v":1.124},{"p":"p19","i":114,"v":1.124},
{"p":"p20","i":0,"v":0.38},{"p":"p20","i":2,"v":0.36},{"p":"p20","i":4,"v":0.35},{"p":"p20","i":6,"v":0.31},{"p":"p20","i":8,"v":0.26},{"p":"p20","i":10,"v":0.21},{"p":"p20","i":12,"v":0.165},{"p":"p20","i":14,"v":0.14},{"p":"p20","i":17,"v":0.125},{"p":"p20","i":25,"v":0.115},{"p":"p20","i":30.0,"v":0.105},{"p":"p20","i":32.5,"v":0.15},{"p":"p20","i":35.0,"v":0.2},{"p":"p20","i":38.3,"v":0.27},{"p":"p20","i":41.3,"v":0.335},{"p":"p20","i":45.0,"v":0.38},{"p":"p20","i":48.5,"v":0.434},{"p":"p20","i":53.6,"v":0.506},{"p":"p20","i":57.3,"v":0.596},{"p":"p20","i":63.1,"v":0.722},{"p":"p20","i":66.0,"v":0.8},{"p":"p20","i":69.0,"v":1.01},{"p":"p20","i":71.9,"v":1.064},{"p":"p20","i":77.7,"v":1.109},{"p":"p20","i":80.6,"v":1.124},{"p":"p20","i":114,"v":1.124}
      ]},
      "mark": {"type": "line", "strokeWidth": 1.5},
      "encoding": {
        "x": {"field": "i", "type": "quantitative", "scale": {"domain": [-5.7, 119.7], "nice": false, "zero": false}, "axis": {"values": [0,20,40,60,80,100], "labelFontSize": 10.7, "title": "Iterations", "titlePadding": 2.5}},
        "y": {"field": "v", "type": "quantitative", "scale": {"domain": [0.0475, 1.2025], "nice": false, "zero": false}, "axis": {"values": [0.2,0.4,0.6,0.8,1.0,1.2], "format": ".1f", "labelFontSize": 10.7, "title": "Distance to the obstacle", "titleFontSize": 12.5, "titleX": -28.1}},
        "color": {"field": "p", "type": "nominal", "legend": null, "scale": {"domain": ["p0","p1","p2","p3","p4","p5","p6","p7","p8","p9","p10","p11","p12","p13","p14","p15","p16","p17","p18","p19","p20"], "range": ["#1f77b4","#ff7f0e","#2ca02c","#d62728","#9467bd","#8c564b","#e377c2","#7f7f7f","#bcbd22","#17becf","#1f77b4","#ff7f0e","#2ca02c","#d62728","#9467bd","#8c564b","#e377c2","#7f7f7f","#bcbd22","#17becf","#1f77b4"]}}
      }
     },
     {
      "data": {"values": [{"x0": 0, "x1": 114, "lim": 0.1}]},
      "mark": {"type": "rule", "color": "#ff0000", "strokeWidth": 1.5, "strokeDash": [1.5, 2.5]},
      "encoding": {
        "x": {"field": "x0", "type": "quantitative"},
        "x2": {"field": "x1"},
        "y": {"field": "lim", "type": "quantitative"}
      }
     }
    ]
   }
  ],
  "spacing": 15.5
 }
]
}
